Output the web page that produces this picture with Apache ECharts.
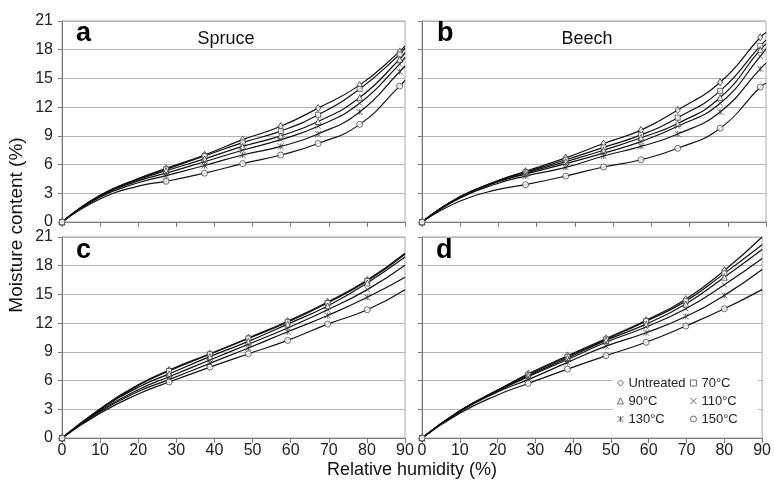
<!DOCTYPE html>
<html>
<head>
<meta charset="utf-8">
<script src="https://cdn.jsdelivr.net/npm/echarts@6/dist/echarts.min.js"></script>
<style>
  html, body { margin: 0; padding: 0; background: #fff; }
  #chart { width: 774px; height: 491px; }
</style>
</head>
<body>
<div id="chart"></div>
<script>
// Sorption isotherms: moisture content (%) vs relative humidity (%)
const treatments = ['Untreated', '70°C', '90°C', '110°C', '130°C', '150°C'];
const panelLetters = ['a', 'b', 'c', 'd'];
const panelTitles = ['Spruce', 'Beech', '', ''];

// measured points, RH per panel
const rhA = [0, 27.3, 37.4, 47.4, 57.4, 67.2, 78.1, 88.6];
const rhB = [0, 27.1, 37.6, 47.5, 57.3, 66.9, 78.0, 88.5];
const rhC = [0, 28.1, 38.8, 48.9, 59.2, 69.7, 80.1];
const rhD = [0, 28.1, 38.5, 48.7, 59.3, 69.8, 80.0];

// moisture content per treatment (rows follow `treatments`)
const mcA = [
  [0, 5.6, 7.0, 8.6, 10.0, 11.9, 14.3, 17.8],
  [0, 5.5, 6.9, 8.3, 9.5, 11.2, 13.9, 17.5],
  [0, 5.35, 6.6, 7.9, 9.0, 10.5, 13.0, 17.0],
  [0, 5.1, 6.3, 7.5, 8.6, 10.0, 12.4, 16.5],
  [0, 4.85, 5.9, 7.0, 7.9, 9.2, 11.5, 15.7],
  [0, 4.25, 5.1, 6.1, 7.0, 8.2, 10.2, 14.2]
];
const mcB = [
  [0, 5.3, 6.7, 8.2, 9.6, 11.7, 14.6, 19.3],
  [0, 5.2, 6.5, 7.8, 9.1, 10.9, 13.7, 18.4],
  [0, 5.1, 6.3, 7.5, 8.8, 10.3, 13.0, 18.0],
  [0, 5.0, 6.1, 7.2, 8.4, 10.0, 12.4, 17.3],
  [0, 4.8, 5.7, 6.9, 7.9, 9.2, 11.5, 16.0],
  [0, 3.9, 4.8, 5.75, 6.5, 7.7, 9.8, 14.1]
];
const mcC = [
  [0, 7.1, 8.8, 10.45, 12.2, 14.2, 16.5],
  [0, 7.0, 8.75, 10.4, 12.1, 14.1, 16.4],
  [0, 6.7, 8.5, 10.1, 11.9, 13.8, 16.2],
  [0, 6.4, 8.15, 9.8, 11.5, 13.4, 15.5],
  [0, 6.1, 7.8, 9.4, 11.1, 12.8, 14.7],
  [0, 5.85, 7.4, 8.8, 10.2, 11.9, 13.4]
];
const mcD = [
  [0, 6.7, 8.6, 10.4, 12.3, 14.5, 17.5],
  [0, 6.6, 8.5, 10.3, 12.2, 14.3, 17.2],
  [0, 6.5, 8.35, 10.2, 11.9, 14.0, 16.8],
  [0, 6.4, 8.2, 10.0, 11.6, 13.5, 16.0],
  [0, 6.1, 7.9, 9.6, 11.0, 12.7, 14.9],
  [0, 5.7, 7.2, 8.6, 10.0, 11.7, 13.5]
];

// fitted isotherm curves: values at low RH and at RH = 90
const fitLowRH = [10, 20];
const fitLowA = [
  [2.8, 4.55], [2.78, 4.5], [2.74, 4.42],
  [2.7, 4.3], [2.6, 4.1], [2.4, 3.75]
];
const fitLowB = [
  [2.65, 4.35], [2.65, 4.3], [2.6, 4.25],
  [2.58, 4.2], [2.52, 4.05], [2.2, 3.4]
];
const fitLowC = [
  [3.05, 5.55], [3.0, 5.5], [2.95, 5.3],
  [2.85, 5.05], [2.75, 4.85], [2.6, 4.6]
];
const fitLowD = [
  [2.85, 5.0], [2.85, 5.0], [2.82, 4.97],
  [2.8, 4.9], [2.75, 4.8], [2.6, 4.5]
];
const fitEndRH = 90;
const fitEndA = [18.4, 18.15, 17.7, 17.2, 16.3, 14.8];
const fitEndB = [19.8, 19.0, 18.6, 18.1, 16.6, 14.5];
const fitEndC = [19.3, 19.2, 18.9, 18.05, 16.8, 15.5];
const fitEndD = [21.0, 20.2, 19.7, 18.75, 17.6, 15.5];

// axis ticks
const xMin = 0, xMax = 90, xStep = 10;
const yMin = 0, yMax = 21, yStep = 3;

const panels = [
  { rh: rhA, mc: mcA, low: fitLowA, end: fitEndA },
  { rh: rhB, mc: mcB, low: fitLowB, end: fitEndB },
  { rh: rhC, mc: mcC, low: fitLowC, end: fitEndC },
  { rh: rhD, mc: mcD, low: fitLowD, end: fitEndD }
];

const FONT = '"Liberation Sans", Arial, sans-serif';
const symbols = [
  'diamond',
  'rect',
  'triangle',
  'path://M0,0L10,10M10,0L0,10',
  'path://M0,0L10,10M10,0L0,10M5,0L5,10',
  'circle'
];
const symbolSizes = [[5, 7], 5, 6, 5, 6, 6];
const markerStyle = { color: '#fff', borderColor: '#333', borderWidth: 0.9 };

const gridBoxes = [
  { left: 62, top: 21, width: 343, height: 201 },
  { left: 422, top: 21, width: 344, height: 201 },
  { left: 62, top: 237, width: 343, height: 201 },
  { left: 422, top: 237, width: 344, height: 201 }
];

const grid = gridBoxes.map(g => Object.assign({
  show: true, borderColor: '#a8a8a8', borderWidth: 1, backgroundColor: 'transparent'
}, g));

const xAxis = gridBoxes.map((g, i) => ({
  type: 'value', gridIndex: i, min: xMin, max: xMax, interval: xStep,
  axisLine: { show: true, lineStyle: { color: '#7a7a7a', width: 1 } },
  axisTick: { show: true, length: 5, lineStyle: { color: '#7a7a7a' } },
  axisLabel: { show: i >= 2, fontSize: 16, color: '#222', fontFamily: FONT, margin: 5 },
  splitLine: { show: false }
}));

const yAxis = gridBoxes.map((g, i) => ({
  type: 'value', gridIndex: i, min: yMin, max: yMax, interval: yStep,
  axisLine: { show: true, lineStyle: { color: '#7a7a7a', width: 1 } },
  axisTick: { show: true, length: 4, lineStyle: { color: '#7a7a7a' } },
  axisLabel: { show: i % 2 === 0, fontSize: 16, color: '#222', fontFamily: FONT, margin: 9 },
  splitLine: { show: true, lineStyle: { color: '#b4b4b4', width: 1 } }
}));

const series = [];
panels.forEach((p, pi) => {
  treatments.forEach((name, ti) => {
    const knots = [[0, 0]]
      .concat(fitLowRH.map((x, k) => [x, p.low[ti][k]]))
      .concat(p.rh.slice(1).map((x, k) => [x, p.mc[ti][k + 1]]))
      .concat([[fitEndRH, p.end[ti]]]);
    series.push({
      type: 'line', xAxisIndex: pi, yAxisIndex: pi,
      data: knots, smooth: 0.5,
      symbol: 'none', showSymbol: false, silent: true,
      lineStyle: { color: '#111', width: 1.2 }, z: 2
    });
    series.push({
      type: 'scatter', name: name, xAxisIndex: pi, yAxisIndex: pi,
      data: p.rh.map((x, k) => [x, p.mc[ti][k]]),
      symbol: symbols[ti], symbolSize: symbolSizes[ti],
      itemStyle: markerStyle, silent: true, z: 3
    });
  });
});

const legendItem = ti => ({ name: treatments[ti], icon: symbols[ti], itemStyle: markerStyle });
const legendBase = {
  orient: 'vertical', top: 376, padding: 0, itemWidth: 6, itemHeight: 6, itemGap: 4,
  selectedMode: false, z: 6,
  textStyle: { fontSize: 13, color: '#222', fontFamily: FONT, lineHeight: 14 }
};
const legend = [
  Object.assign({ left: 617, data: [0, 2, 4].map(legendItem) }, legendBase),
  Object.assign({ left: 690, data: [1, 3, 5].map(legendItem) }, legendBase)
];

const graphic = [
  { type: 'rect', z: 4, silent: true, shape: { x: 613, y: 371, width: 145, height: 57 }, style: { fill: '#fff' } }
];
const letterPos = [[76, 37], [437, 37], [76, 254], [436, 254]];
panelLetters.forEach((l, i) => {
  graphic.push({ type: 'text', z: 7, left: letterPos[i][0], top: letterPos[i][1] - 17,
    style: { text: l, font: 'bold 27px ' + FONT, fill: '#000' } });
});
const titleCenters = [226, 587];
panelTitles.forEach((t, i) => {
  if (!t) return;
  graphic.push({ type: 'text', z: 7, x: titleCenters[i], y: 39,
    style: { text: t, font: '18px ' + FONT, fill: '#111', align: 'center', verticalAlign: 'middle' } });
});
graphic.push({ type: 'text', z: 7, x: 412, y: 470,
  style: { text: 'Relative humidity (%)', font: '18px ' + FONT, fill: '#111', align: 'center', verticalAlign: 'middle' } });
graphic.push({ type: 'text', z: 7, x: 17, y: 225, rotation: Math.PI / 2,
  style: { text: 'Moisture content (%)', font: '19px ' + FONT, fill: '#111', align: 'center', verticalAlign: 'middle' } });

const chart = echarts.init(document.getElementById('chart'), null, { renderer: 'canvas' });
chart.setOption({
  animation: false,
  backgroundColor: '#fff',
  grid, xAxis, yAxis, series, legend, graphic
});
</script>
</body>
</html>
